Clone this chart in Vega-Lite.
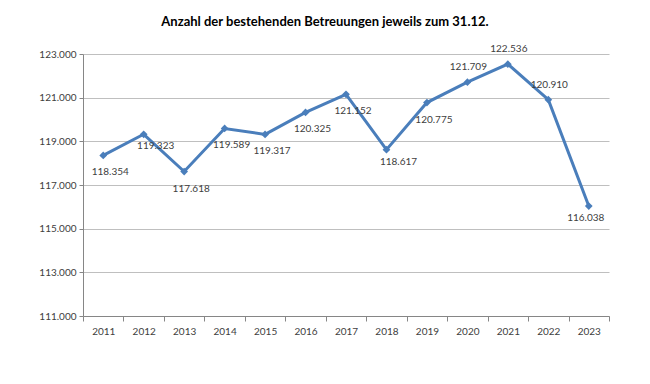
{
  "$schema": "https://vega.github.io/schema/vega-lite/v6.json",
  "autosize": "none",
  "width": 526,
  "height": 262,
  "padding": {"left": 83, "top": 54, "right": 41, "bottom": 68},
  "background": "white",
  "title": {
    "text": "Anzahl der bestehenden Betreuungen jeweils zum 31.12.",
    "font": "Lato",
    "fontSize": 13,
    "fontWeight": "bold",
    "color": "#000000",
    "anchor": "middle",
    "dx": -21,
    "offset": 15
  },
  "config": {
    "locale": {"number": {"decimal": ",", "thousands": ".", "grouping": [3], "currency": ["", " €"]}},
    "view": {"stroke": null},
    "axis": {"labelFont": "Lato", "labelFontSize": 10, "labelColor": "#404040"}
  },
  "data": {
    "values": [
      {"year": "2011", "value": 118354},
      {"year": "2012", "value": 119323},
      {"year": "2013", "value": 117618},
      {"year": "2014", "value": 119589},
      {"year": "2015", "value": 119317},
      {"year": "2016", "value": 120325},
      {"year": "2017", "value": 121152},
      {"year": "2018", "value": 118617},
      {"year": "2019", "value": 120775},
      {"year": "2020", "value": 121709},
      {"year": "2021", "value": 122536},
      {"year": "2022", "value": 120910},
      {"year": "2023", "value": 116038}
    ]
  },
  "encoding": {
    "x": {
      "field": "year",
      "type": "ordinal",
      "bandPosition": 0.5,
      "scale": {"type": "band", "paddingInner": 0, "paddingOuter": 0},
      "axis": {
        "title": null,
        "labelAngle": 0,
        "tickBand": "extent",
        "domainColor": "#868686",
        "tickColor": "#868686",
        "tickSize": 5,
        "labelPadding": 5,
        "grid": false
      }
    },
    "y": {
      "field": "value",
      "type": "quantitative",
      "scale": {"domain": [111000, 123000], "nice": false, "zero": false},
      "axis": {
        "title": null,
        "values": [111000, 113000, 115000, 117000, 119000, 121000, 123000],
        "format": ",d",
        "grid": true,
        "gridColor": "#bfbfbf",
        "gridWidth": 1,
        "domainColor": "#868686",
        "tickColor": "#868686",
        "tickSize": 4,
        "labelPadding": 3
      }
    }
  },
  "layer": [
    {
      "mark": {"type": "line", "color": "#4a7ebb", "strokeWidth": 3}
    },
    {
      "mark": {"type": "point", "shape": "diamond", "filled": true, "color": "#4a7ebb", "size": 60, "opacity": 1}
    },
    {
      "transform": [{"filter": "datum.year != '2020' && datum.year != '2021' && datum.year != '2022' && datum.year != '2012' && datum.year != '2018' && datum.year != '2023'"}],
      "mark": {"type": "text", "font": "Lato", "fontSize": 10, "color": "#404040", "dy": 17, "dx": 7},
      "encoding": {"text": {"field": "value", "type": "quantitative", "format": ",d"}}
    },
    {
      "transform": [{"filter": "datum.year == '2012' || datum.year == '2018'"}],
      "mark": {"type": "text", "font": "Lato", "fontSize": 10, "color": "#404040", "dy": 12, "dx": 12},
      "encoding": {"text": {"field": "value", "type": "quantitative", "format": ",d"}}
    },
    {
      "transform": [{"filter": "datum.year == '2023'"}],
      "mark": {"type": "text", "font": "Lato", "fontSize": 10, "color": "#404040", "dy": 12, "dx": -3},
      "encoding": {"text": {"field": "value", "type": "quantitative", "format": ",d"}}
    },
    {
      "transform": [{"filter": "datum.year == '2020' || datum.year == '2021' || datum.year == '2022'"}],
      "mark": {"type": "text", "font": "Lato", "fontSize": 10, "color": "#404040", "dy": -15, "dx": 1},
      "encoding": {"text": {"field": "value", "type": "quantitative", "format": ",d"}}
    }
  ]
}
